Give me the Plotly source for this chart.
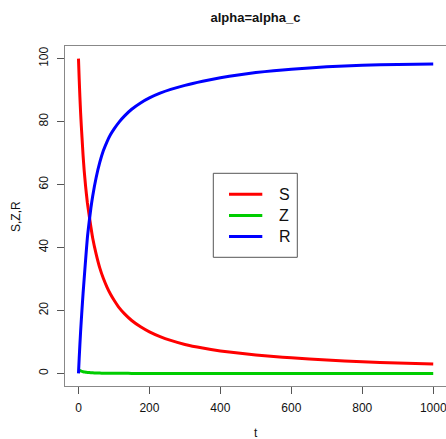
import plotly.graph_objects as go

# Time points and population levels of the three compartments
t = [0, 2, 4, 6, 8, 10, 13, 16, 20, 25, 30, 35, 40, 50, 60, 70, 80, 90,
     100, 115, 130, 150, 175, 200, 230, 260, 300, 350, 400, 450, 500, 550,
     600, 700, 800, 900, 1000]
S = [100, 93.5, 87.8, 82.8, 78.6, 74.8, 69.2, 64.5, 59.5, 54.3, 50.3,
     46.5, 43.0, 37.8, 33.5, 30.2, 27.5, 25.2, 23.3, 20.8, 18.9, 16.8,
     14.8, 13.2, 11.7, 10.5, 9.2, 8.05, 7.15, 6.45, 5.85, 5.35, 4.95,
     4.25, 3.7, 3.3, 3.0]
Z = [1.1, 1.0, 0.9, 0.8, 0.72, 0.65, 0.55, 0.47, 0.4, 0.32, 0.26, 0.21,
     0.17, 0.12, 0.09, 0.07, 0.05, 0.04, 0.03, 0.02, 0.02, 0.01, 0.01,
     0.01, 0.0, 0.0, 0.0, 0.0, 0.0, 0.0, 0.0, 0.0, 0.0, 0.0, 0.0, 0.0, 0.0]
R = [0, 4.8, 9.2, 13.3, 17.0, 20.5, 25.5, 30.0, 36.0, 43.0, 48.0, 52.5,
     56.3, 62.3, 67.0, 70.7, 73.5, 75.8, 77.6, 79.9, 81.8, 83.9, 85.9,
     87.5, 89.0, 90.2, 91.5, 92.8, 93.9, 94.8, 95.55, 96.15, 96.65, 97.4,
     97.9, 98.15, 98.3]

x_ticks = [0, 200, 400, 600, 800, 1000]
y_ticks = [0, 20, 40, 60, 80, 100]

series = [("S", S, "#FF0000"), ("Z", Z, "#00CD00"), ("R", R, "#0000FF")]

FONT = "Liberation Sans, Arial, Helvetica, sans-serif"

# plot area in pixels
W, H = 446, 439
ML, MR, MT, MB = 65, 0, 46, 53
PW, PH = W - ML - MR, H - MT - MB


def px_x(p):
    return (p - ML) / PW


def px_y(p):
    return (H - MB - p) / PH


fig = go.Figure()
for name, vals, col in series:
    fig.add_trace(go.Scatter(
        x=t, y=vals, name=name, mode="lines", showlegend=False,
        line=dict(color=col, width=3, shape="spline", smoothing=0.5),
    ))

axis_common = dict(
    showgrid=False, zeroline=False, showline=True, linecolor="#888888",
    linewidth=1, ticks="outside", ticklen=7, tickcolor="#555555",
    tickfont=dict(family=FONT, size=12, color="#111111"),
    ticklabeloverflow="allow",
)

# legend box drawn as a framed key with line samples
shapes = [dict(type="rect", xref="paper", yref="paper",
               x0=px_x(213.3), x1=px_x(297.3), y0=px_y(257.3), y1=px_y(173.3),
               line=dict(color="#555555", width=1), fillcolor="white",
               layer="above")]
annotations = []
key_rows = [194.3, 215.5, 236.5]
for (name, _, col), ry in zip(series, key_rows):
    shapes.append(dict(type="line", xref="paper", yref="paper",
                       x0=px_x(229), x1=px_x(262.3), y0=px_y(ry), y1=px_y(ry),
                       line=dict(color=col, width=3), layer="above"))
    annotations.append(dict(text=name, xref="paper", yref="paper",
                            x=px_x(276.5), y=px_y(ry), xanchor="left",
                            yanchor="middle", showarrow=False,
                            font=dict(family=FONT, size=16, color="#111111")))

annotations += [
    dict(text="t", xref="paper", yref="paper", x=0.5, y=px_y(433),
         showarrow=False, yanchor="middle", font=dict(family=FONT, size=12)),
    dict(text="S,Z,R", xref="paper", yref="paper", x=px_x(16), y=0.5,
         textangle=-90, showarrow=False, xanchor="center",
         font=dict(family=FONT, size=12)),
]

fig.update_layout(
    width=W, height=H, autosize=False,
    margin=dict(l=ML, r=MR, t=MT, b=MB),
    paper_bgcolor="white", plot_bgcolor="white",
    font=dict(family=FONT, color="#111111"),
    title=dict(text="<b>alpha=alpha_c</b>", x=0.5, xref="paper",
               y=1 - 17 / H, yref="container", yanchor="middle",
               xanchor="center", font=dict(family=FONT, size=13)),
    xaxis=dict(range=[-38, 1036], tickvals=x_ticks, mirror=True,
               ticklabelstandoff=4, **axis_common),
    yaxis=dict(range=[-4, 104], tickvals=y_ticks, tickangle=-90,
               ticklabelstandoff=4, **axis_common),
    showlegend=False,
    shapes=shapes,
    annotations=annotations,
)

fig.write_html("out.html")
